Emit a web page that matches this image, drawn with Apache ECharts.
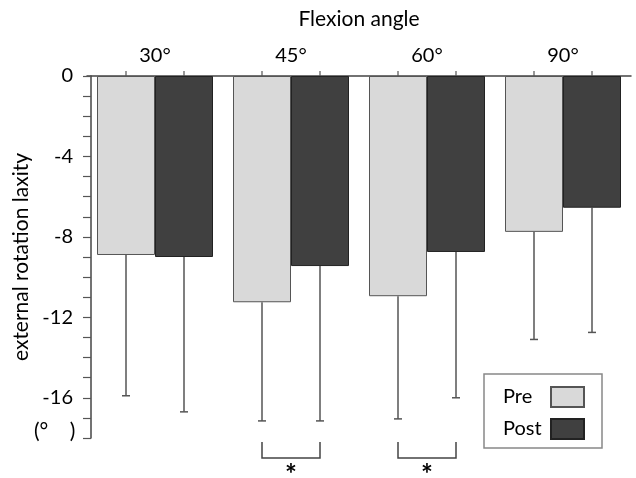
<!DOCTYPE html>
<html>
<head>
<meta charset="utf-8">
<script src="https://cdn.jsdelivr.net/npm/echarts@6/dist/echarts.min.js"></script>
<style>
  html, body { margin: 0; padding: 0; background: #fff; }
  #main { width: 636px; height: 478px; }
</style>
</head>
<body>
<div id="main"></div>
<script>
var categories = ['30°', '45°', '60°', '90°'];
var preMean = [-8.9, -11.25, -10.95, -7.75];
var postMean = [-9.0, -9.45, -8.75, -6.55];
var preLow = [-15.9, -17.15, -17.05, -13.1];
var postLow = [-16.7, -17.15, -16.0, -12.75];
var sigGroups = [1, 2]; // 45° and 60° marked with *

var FONT = 'Lato, "Open Sans", sans-serif';
var barW = 58;

// error bars only go down (more negative), drawn at each bar centre
var errData = [];
for (var i = 0; i < categories.length; i++) {
    errData.push([i, preMean[i], preLow[i], -1]);
    errData.push([i, postMean[i], postLow[i], 1]);
}

function errRender(params, api) {
    var top = api.coord([api.value(0), api.value(1)]);
    var bot = api.coord([api.value(0), api.value(2)]);
    var x = top[0] + api.value(3) * barW / 2;
    var st = { stroke: '#555', lineWidth: 1.5 };
    return {
        type: 'group',
        children: [
            { type: 'line', shape: { x1: x, y1: top[1], x2: x, y2: bot[1] }, style: st },
            { type: 'line', shape: { x1: x - 4, y1: bot[1], x2: x + 4, y2: bot[1] }, style: st }
        ]
    };
}

// small ticks on the top axis, one above each bar
function tickRender(params, api) {
    var p = api.coord([api.value(0), 0]);
    var st = { stroke: '#555', lineWidth: 1.2 };
    return {
        type: 'group',
        children: [
            { type: 'line', shape: { x1: p[0] - barW / 2, y1: p[1], x2: p[0] - barW / 2, y2: p[1] - 5 }, style: st },
            { type: 'line', shape: { x1: p[0] + barW / 2, y1: p[1], x2: p[0] + barW / 2, y2: p[1] - 5 }, style: st }
        ]
    };
}

// significance bracket under the axis
function sigRender(params, api) {
    var a = api.coord([api.value(0), -18.2]);
    var b = api.coord([api.value(0), -19]);
    var x1 = a[0] - barW / 2, x2 = a[0] + barW / 2;
    var st = { stroke: '#444', lineWidth: 1.5, fill: null };
    return {
        type: 'group',
        children: [
            { type: 'polyline', shape: { points: [[x1, a[1]], [x1, b[1]], [x2, b[1]], [x2, a[1]]] }, style: st },
            { type: 'text', style: { x: a[0], y: b[1] + 3, text: '*', fill: '#000', font: 'bold 28px ' + FONT, align: 'center', verticalAlign: 'top' } }
        ]
    };
}

var option = {
    animation: false,
    backgroundColor: '#fff',
    grid: { left: 87, top: 76, width: 544, bottom: 40, containLabel: false },
    legend: {
        data: ['Pre', 'Post'],
        orient: 'vertical',
        align: 'right',
        left: 484,
        top: 374,
        padding: [12, 17, 8, 19],
        itemWidth: 33,
        itemHeight: 20,
        itemGap: 10,
        borderColor: '#888',
        borderWidth: 1.5,
        icon: 'rect',
        formatter: '{t|{name}}',
        textStyle: {
            fontSize: 20, color: '#000', fontFamily: FONT,
            rich: { t: { width: 43, align: 'left', fontSize: 20, fontFamily: FONT } }
        }
    },
    graphic: [
        { type: 'text', left: 34, top: 421, style: { text: '(°    )', font: '21px ' + FONT, fill: '#000' } }
    ],
    xAxis: {
        type: 'category',
        position: 'top',
        data: categories,
        name: 'Flexion angle',
        nameLocation: 'middle',
        nameGap: 46,
        nameTextStyle: { fontSize: 21, color: '#000', fontFamily: FONT },
        axisLine: { lineStyle: { color: '#444', width: 1.5 } },
        axisTick: { show: false },
        axisLabel: { margin: 10, fontSize: 20, color: '#000', fontFamily: FONT }
    },
    yAxis: {
        type: 'value',
        min: -18,
        max: 0,
        interval: 1,
        offset: -4,
        name: 'external rotation laxity',
        nameLocation: 'middle',
        nameRotate: 90,
        nameGap: 49,
        nameTextStyle: { fontSize: 21, color: '#000', fontFamily: FONT },
        axisLine: { show: true, lineStyle: { color: '#444', width: 1.5 } },
        axisTick: { show: true, length: 8, lineStyle: { color: '#555', width: 1.2 } },
        axisLabel: {
            margin: 18,
            fontSize: 20,
            color: '#000',
            fontFamily: FONT,
            formatter: function (v) { return v % 4 === 0 ? String(v) : ''; }
        },
        splitLine: { show: false }
    },
    series: [
        {
            name: 'Pre',
            type: 'bar',
            data: preMean,
            barWidth: barW,
            barGap: '0%',
            itemStyle: { color: '#d9d9d9', borderColor: '#555', borderWidth: 1 }
        },
        {
            name: 'Post',
            type: 'bar',
            data: postMean,
            barWidth: barW,
            barGap: '0%',
            itemStyle: { color: '#404040', borderColor: '#222', borderWidth: 1 }
        },
        {
            name: 'err',
            type: 'custom',
            renderItem: errRender,
            data: errData,
            z: 1
        },
        {
            name: 'ticks',
            type: 'custom',
            renderItem: tickRender,
            data: categories.map(function (c, i) { return [i]; }),
            clip: false
        },
        {
            name: 'sig',
            type: 'custom',
            renderItem: sigRender,
            data: sigGroups.map(function (g) { return [g]; }),
            clip: false
        }
    ]
};

echarts.init(document.getElementById('main')).setOption(option);
</script>
</body>
</html>
